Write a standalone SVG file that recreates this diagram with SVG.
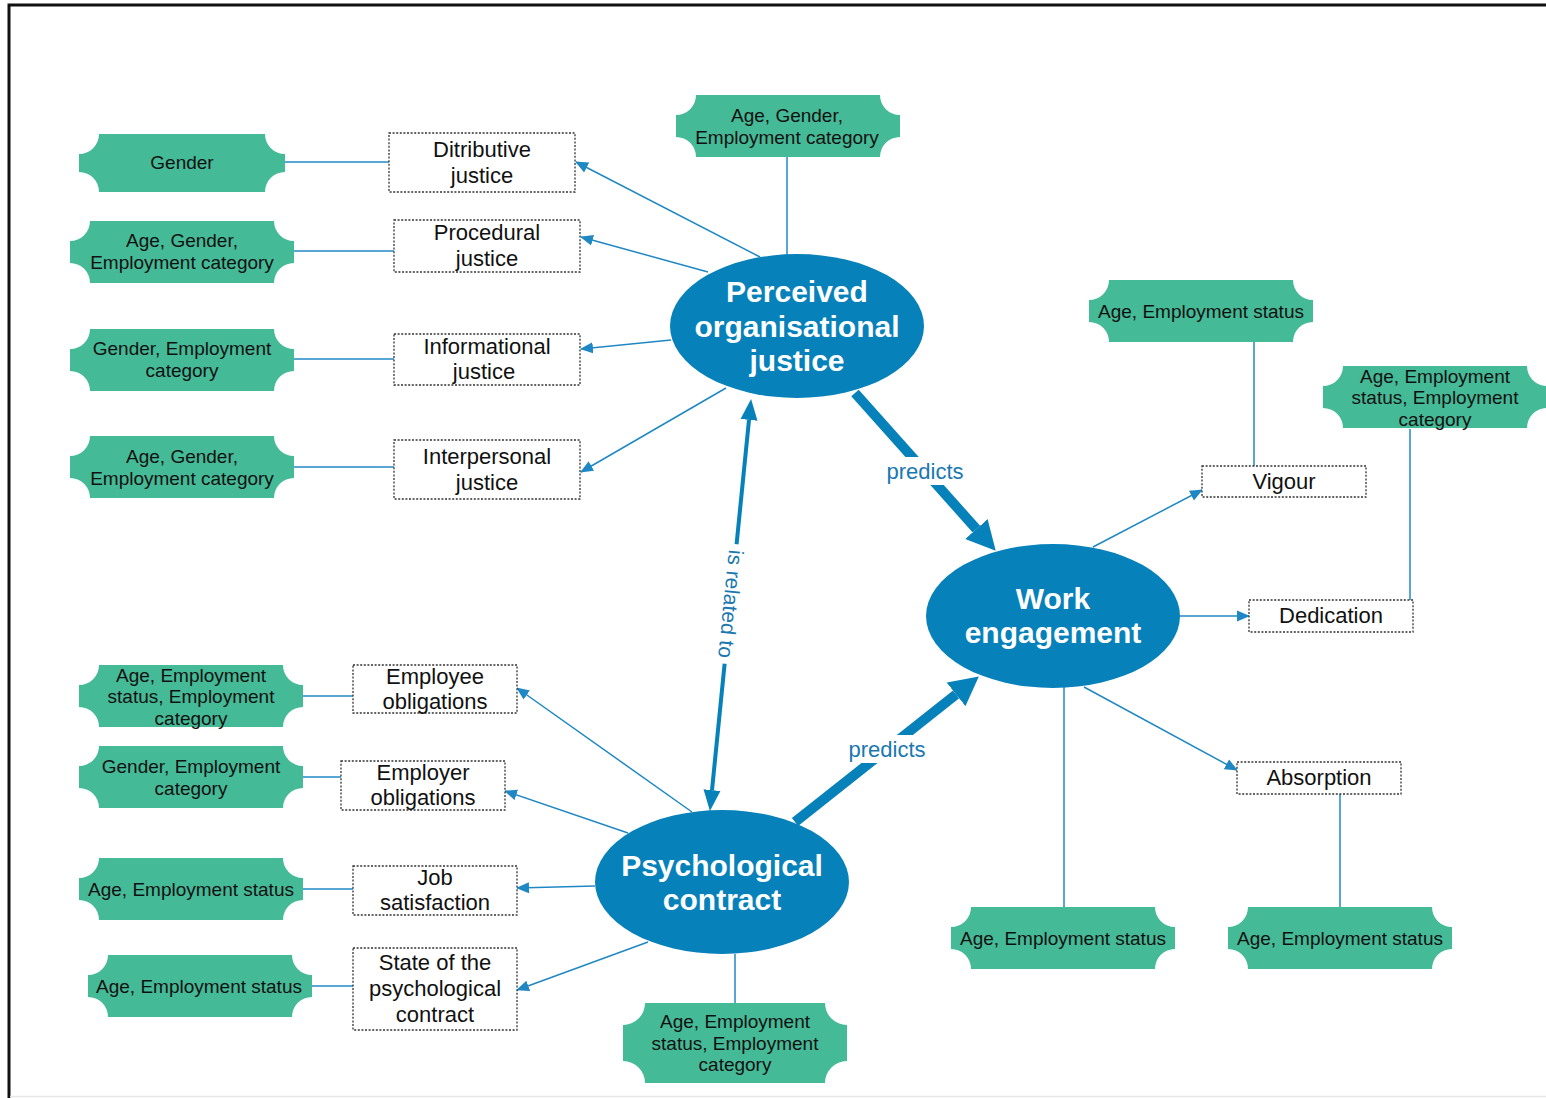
<svg xmlns="http://www.w3.org/2000/svg" xmlns:xlink="http://www.w3.org/1999/xlink" width="1546" height="1098" viewBox="0 0 1546 1098">
  <style>
    .tag { fill: #45BA97; }
    .tag-t { font-family: "Liberation Sans", Arial, sans-serif; font-size: 19px; fill: #111; text-anchor: middle; dominant-baseline: central; }
    .box { fill: #fff; stroke: #333; stroke-width: 1.3; stroke-dasharray: 2 1.6; }
    .box-t { font-family: "Liberation Sans", Arial, sans-serif; font-size: 22px; fill: #111; text-anchor: middle; dominant-baseline: central; }
    .hub { fill: #0781BA; }
    .hub-t { font-family: "Liberation Sans", Arial, sans-serif; font-size: 30px; font-weight: bold; fill: #fff; text-anchor: middle; dominant-baseline: central; }
    .link { stroke: #1F88C4; stroke-width: 1.5; fill: none; }
    .arr { marker-end: url(#thin); }
    .heavy { stroke: #0781BA; stroke-width: 10; fill: none; marker-end: url(#thick); }
    .rel { stroke: #0781BA; stroke-width: 4; fill: none; marker-start: url(#mid); marker-end: url(#mid); }
    .lbl { font-family: "Liberation Sans", Arial, sans-serif; font-size: 22px; fill: #1A78B0; text-anchor: middle; dominant-baseline: central; }
  </style>
  <defs>
    <marker id="thin" markerUnits="userSpaceOnUse" viewBox="0 -6 13 12" markerWidth="13" markerHeight="12" refX="12" refY="0" orient="auto">
      <path d="M0,-5.5 L13,0 L0,5.5 Z" fill="#1F88C4"/>
    </marker>
    <marker id="thick" markerUnits="userSpaceOnUse" viewBox="0 -16 30 32" markerWidth="30" markerHeight="32" refX="0" refY="0" orient="auto">
      <path d="M0,-15 L29,0 L0,15 Z" fill="#0781BA"/>
    </marker>
    <marker id="mid" markerUnits="userSpaceOnUse" viewBox="0 -10 22 20" markerWidth="22" markerHeight="20" refX="0" refY="0" orient="auto-start-reverse">
      <path d="M0,-8.5 L21,0 L0,8.5 Z" fill="#0781BA"/>
    </marker>
    <!-- standard notched tag shape, 224 x 62 -->
    <path id="tag224" d="M20,0 H204 A20,20 0 0 0 224,20 V42 A20,20 0 0 0 204,62 H20 A20,20 0 0 0 0,42 V20 A20,20 0 0 0 20,0 Z"/>
  </defs>

  <rect width="1546" height="1098" fill="#fff"/>
  <!-- frame -->
  <path d="M9,1098 V5 H1546" fill="none" stroke="#111" stroke-width="3"/>
  <line x1="10" y1="1096.5" x2="1546" y2="1096.5" stroke="#e6e6e6" stroke-width="1.5"/>

  <g id="connectors">
    <!-- tag to factor links -->
    <line class="link" x1="285" y1="162" x2="389" y2="162"/>
    <line class="link" x1="294" y1="251" x2="394" y2="251"/>
    <line class="link" x1="294" y1="359" x2="394" y2="359"/>
    <line class="link" x1="294" y1="467" x2="394" y2="467"/>
    <line class="link" x1="787" y1="157" x2="787" y2="256"/>
    <line class="link" x1="1254" y1="342" x2="1254" y2="466"/>
    <line class="link" x1="1410" y1="429" x2="1410" y2="600"/>
    <line class="link" x1="1064" y1="687" x2="1064" y2="907"/>
    <line class="link" x1="1340" y1="794" x2="1340" y2="907"/>
    <line class="link" x1="735" y1="954" x2="735" y2="1003"/>
    <line class="link" x1="303" y1="696" x2="353" y2="696"/>
    <line class="link" x1="303" y1="777" x2="341" y2="777"/>
    <line class="link" x1="303" y1="889" x2="353" y2="889"/>
    <line class="link" x1="312" y1="986" x2="353" y2="986"/>

    <!-- justice dimensions -->
    <line class="link arr" x1="760" y1="257" x2="576" y2="162"/>
    <line class="link arr" x1="708" y1="272" x2="581" y2="237"/>
    <line class="link arr" x1="671" y1="340" x2="581" y2="349"/>
    <line class="link arr" x1="726" y1="388" x2="581" y2="472"/>

    <!-- engagement dimensions -->
    <line class="link arr" x1="1093" y1="547" x2="1202" y2="490"/>
    <line class="link arr" x1="1180" y1="616" x2="1249" y2="616"/>
    <line class="link arr" x1="1084" y1="687" x2="1237" y2="770"/>

    <!-- contract dimensions -->
    <line class="link arr" x1="692" y1="812" x2="517" y2="688"/>
    <line class="link arr" x1="628" y1="833" x2="505" y2="791"/>
    <line class="link arr" x1="595" y1="886" x2="517" y2="888"/>
    <line class="link arr" x1="648" y1="942" x2="517" y2="990"/>

    <!-- main relations -->
    <line class="heavy" x1="855" y1="393" x2="976.4" y2="529.1"/>
    <rect x="883" y="457" width="84" height="28" fill="#fff"/>
    <text class="lbl" x="925" y="471">predicts</text>

    <line class="heavy" x1="795" y1="822" x2="956.1" y2="694.4"/>
    <rect x="845" y="735" width="84" height="28" fill="#fff"/>
    <text class="lbl" x="887" y="749">predicts</text>

    <line class="rel" x1="749" y1="419.9" x2="712" y2="790.1"/>
    <g transform="translate(731,604) rotate(95.7)">
      <rect x="-60" y="-13" width="120" height="26" fill="#fff"/>
      <text class="lbl" x="0" y="0" style="font-size:21px">is related to</text>
    </g>
  </g>

  <!-- central constructs -->
  <g id="justice">
    <ellipse class="hub" cx="797" cy="326" rx="127" ry="72"/>
    <text class="hub-t" x="797" y="291">Perceived</text>
    <text class="hub-t" x="797" y="326">organisational</text>
    <text class="hub-t" x="797" y="360">justice</text>
  </g>
  <g id="engagement">
    <ellipse class="hub" cx="1053" cy="616" rx="127" ry="72"/>
    <text class="hub-t" x="1053" y="598">Work</text>
    <text class="hub-t" x="1053" y="632">engagement</text>
  </g>
  <g id="contract">
    <ellipse class="hub" cx="722" cy="882" rx="127" ry="72"/>
    <text class="hub-t" x="722" y="865">Psychological</text>
    <text class="hub-t" x="722" y="899">contract</text>
  </g>

  <!-- dimension boxes -->
  <g id="distributive">
    <rect class="box" x="389" y="133" width="186" height="59"/>
    <text class="box-t" x="482" y="149">Ditributive</text>
    <text class="box-t" x="482" y="175">justice</text>
  </g>
  <g id="procedural">
    <rect class="box" x="394" y="220" width="186" height="52"/>
    <text class="box-t" x="487" y="232">Procedural</text>
    <text class="box-t" x="487" y="258">justice</text>
  </g>
  <g id="informational">
    <rect class="box" x="394" y="334" width="186" height="51"/>
    <text class="box-t" x="487" y="346">Informational</text>
    <text class="box-t" x="484" y="371">justice</text>
  </g>
  <g id="interpersonal">
    <rect class="box" x="394" y="440" width="186" height="59"/>
    <text class="box-t" x="487" y="456">Interpersonal</text>
    <text class="box-t" x="487" y="482">justice</text>
  </g>
  <g id="vigour">
    <rect class="box" x="1202" y="466" width="164" height="31"/>
    <text class="box-t" x="1284" y="481">Vigour</text>
  </g>
  <g id="dedication">
    <rect class="box" x="1249" y="600" width="164" height="32"/>
    <text class="box-t" x="1331" y="615">Dedication</text>
  </g>
  <g id="absorption">
    <rect class="box" x="1237" y="762" width="164" height="32"/>
    <text class="box-t" x="1319" y="777">Absorption</text>
  </g>
  <g id="employee-obligations">
    <rect class="box" x="353" y="665" width="164" height="48"/>
    <text class="box-t" x="435" y="676">Employee</text>
    <text class="box-t" x="435" y="701">obligations</text>
  </g>
  <g id="employer-obligations">
    <rect class="box" x="341" y="761" width="164" height="49"/>
    <text class="box-t" x="423" y="772">Employer</text>
    <text class="box-t" x="423" y="797">obligations</text>
  </g>
  <g id="job-satisfaction">
    <rect class="box" x="353" y="866" width="164" height="49"/>
    <text class="box-t" x="435" y="877">Job</text>
    <text class="box-t" x="435" y="902">satisfaction</text>
  </g>
  <g id="contract-state">
    <rect class="box" x="353" y="948" width="164" height="82"/>
    <text class="box-t" x="435" y="962">State of the</text>
    <text class="box-t" x="435" y="988">psychological</text>
    <text class="box-t" x="435" y="1014">contract</text>
  </g>

  <!-- demographic tags -->
  <g id="tag-distributive">
    <path class="tag" d="M99,134 H265 A20,20 0 0 0 285,154 V172 A20,20 0 0 0 265,192 H99 A20,20 0 0 0 79,172 V154 A20,20 0 0 0 99,134 Z"/>
    <text class="tag-t" x="182" y="162">Gender</text>
  </g>
  <g id="tag-procedural">
    <use class="tag" xlink:href="#tag224" x="70" y="221"/>
    <text class="tag-t" x="182" y="240">Age, Gender,</text>
    <text class="tag-t" x="182" y="262">Employment category</text>
  </g>
  <g id="tag-informational">
    <use class="tag" xlink:href="#tag224" x="70" y="329"/>
    <text class="tag-t" x="182" y="348">Gender, Employment</text>
    <text class="tag-t" x="182" y="370">category</text>
  </g>
  <g id="tag-interpersonal">
    <use class="tag" xlink:href="#tag224" x="70" y="436"/>
    <text class="tag-t" x="182" y="456">Age, Gender,</text>
    <text class="tag-t" x="182" y="478">Employment category</text>
  </g>
  <g id="tag-justice">
    <use class="tag" xlink:href="#tag224" x="676" y="95"/>
    <text class="tag-t" x="787" y="115">Age, Gender,</text>
    <text class="tag-t" x="787" y="137">Employment category</text>
  </g>
  <g id="tag-vigour">
    <use class="tag" xlink:href="#tag224" x="1089" y="280"/>
    <text class="tag-t" x="1201" y="311">Age, Employment status</text>
  </g>
  <g id="tag-dedication">
    <use class="tag" xlink:href="#tag224" x="1323" y="366"/>
    <text class="tag-t" x="1435" y="376">Age, Employment</text>
    <text class="tag-t" x="1435" y="397">status, Employment</text>
    <text class="tag-t" x="1435" y="419">category</text>
  </g>
  <g id="tag-engagement">
    <use class="tag" xlink:href="#tag224" x="951" y="907"/>
    <text class="tag-t" x="1063" y="938">Age, Employment status</text>
  </g>
  <g id="tag-absorption">
    <use class="tag" xlink:href="#tag224" x="1228" y="907"/>
    <text class="tag-t" x="1340" y="938">Age, Employment status</text>
  </g>
  <g id="tag-employee">
    <use class="tag" xlink:href="#tag224" x="79" y="665"/>
    <text class="tag-t" x="191" y="675">Age, Employment</text>
    <text class="tag-t" x="191" y="696">status, Employment</text>
    <text class="tag-t" x="191" y="718">category</text>
  </g>
  <g id="tag-employer">
    <use class="tag" xlink:href="#tag224" x="79" y="746"/>
    <text class="tag-t" x="191" y="766">Gender, Employment</text>
    <text class="tag-t" x="191" y="788">category</text>
  </g>
  <g id="tag-job">
    <use class="tag" xlink:href="#tag224" x="79" y="858"/>
    <text class="tag-t" x="191" y="889">Age, Employment status</text>
  </g>
  <g id="tag-state">
    <use class="tag" xlink:href="#tag224" x="88" y="955"/>
    <text class="tag-t" x="199" y="986">Age, Employment status</text>
  </g>
  <g id="tag-contract">
    <path class="tag" d="M645,1003 H825 A22,22 0 0 0 847,1025 V1061 A22,22 0 0 0 825,1083 H645 A22,22 0 0 0 623,1061 V1025 A22,22 0 0 0 645,1003 Z"/>
    <text class="tag-t" x="735" y="1021">Age, Employment</text>
    <text class="tag-t" x="735" y="1043">status, Employment</text>
    <text class="tag-t" x="735" y="1064">category</text>
  </g>
</svg>
